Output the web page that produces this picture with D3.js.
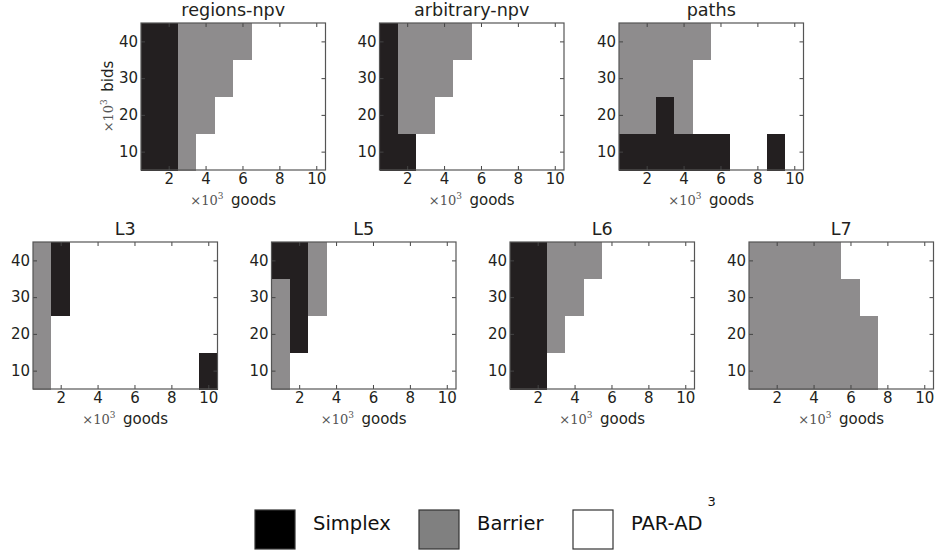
<!DOCTYPE html>
<html>
<head>
<meta charset="utf-8">
<script src="https://cdn.jsdelivr.net/npm/d3@7"></script>
<style>
  body { margin: 0; background: #fff; }
  svg { display: block; font-family: "DejaVu Sans", sans-serif; }
</style>
</head>
<body>
<svg width="935" height="550"></svg>
<script>
// goods (x10^3) on x, bids (x10^3) on y
const goods = [1, 2, 3, 4, 5, 6, 7, 8, 9, 10];
const bids = [10, 20, 30, 40];
const xTicks = [2, 4, 6, 8, 10];
const yTicks = [10, 20, 30, 40];

// winning solver per cell: 0 = Simplex, 1 = Barrier, 2 = PAR-AD^3
// one row per bids value (10, 20, 30, 40), one column per goods value
const regionsNpv = [
    [0, 0, 1, 2, 2, 2, 2, 2, 2, 2],
    [0, 0, 1, 1, 2, 2, 2, 2, 2, 2],
    [0, 0, 1, 1, 1, 2, 2, 2, 2, 2],
    [0, 0, 1, 1, 1, 1, 2, 2, 2, 2]
];
const arbitraryNpv = [
    [0, 0, 2, 2, 2, 2, 2, 2, 2, 2],
    [0, 1, 1, 2, 2, 2, 2, 2, 2, 2],
    [0, 1, 1, 1, 2, 2, 2, 2, 2, 2],
    [0, 1, 1, 1, 1, 2, 2, 2, 2, 2]
];
const paths = [
    [0, 0, 0, 0, 0, 0, 2, 2, 0, 2],
    [1, 1, 0, 1, 2, 2, 2, 2, 2, 2],
    [1, 1, 1, 1, 2, 2, 2, 2, 2, 2],
    [1, 1, 1, 1, 1, 2, 2, 2, 2, 2]
];
const l3 = [
    [1, 2, 2, 2, 2, 2, 2, 2, 2, 0],
    [1, 2, 2, 2, 2, 2, 2, 2, 2, 2],
    [1, 0, 2, 2, 2, 2, 2, 2, 2, 2],
    [1, 0, 2, 2, 2, 2, 2, 2, 2, 2]
];
const l5 = [
    [1, 2, 2, 2, 2, 2, 2, 2, 2, 2],
    [1, 0, 2, 2, 2, 2, 2, 2, 2, 2],
    [1, 0, 1, 2, 2, 2, 2, 2, 2, 2],
    [0, 0, 1, 2, 2, 2, 2, 2, 2, 2]
];
const l6 = [
    [0, 0, 2, 2, 2, 2, 2, 2, 2, 2],
    [0, 0, 1, 2, 2, 2, 2, 2, 2, 2],
    [0, 0, 1, 1, 2, 2, 2, 2, 2, 2],
    [0, 0, 1, 1, 1, 2, 2, 2, 2, 2]
];
const l7 = [
    [1, 1, 1, 1, 1, 1, 1, 2, 2, 2],
    [1, 1, 1, 1, 1, 1, 1, 2, 2, 2],
    [1, 1, 1, 1, 1, 1, 2, 2, 2, 2],
    [1, 1, 1, 1, 1, 2, 2, 2, 2, 2]
];

const solverNames = ["Simplex", "Barrier", "PAR-AD"];
const cellColors = ["#231f20", "#8e8c8d", "#ffffff"];
const legendColors = ["#000000", "#808080", "#ffffff"];

const panels = [
    { title: "regions-npv", grid: regionsNpv, left: 141, top: 23, ylabel: true },
    { title: "arbitrary-npv", grid: arbitraryNpv, left: 379.5, top: 23 },
    { title: "paths", grid: paths, left: 619, top: 23 },
    { title: "L3", grid: l3, left: 33, top: 242 },
    { title: "L5", grid: l5, left: 271.5, top: 242 },
    { title: "L6", grid: l6, left: 510, top: 242 },
    { title: "L7", grid: l7, left: 749, top: 242 }
];

const svg = d3.select("svg");
const pw = 184.5, ph = 147;
const ink = "#231f20";

const x = d3.scaleLinear().domain([0.5, 10.5]).range([0, pw]);
const y = d3.scaleLinear().domain([5, 45]).range([ph, 0]);

// x10^3 multiplier written as math text
function addMultiplier(t) {
    t.append("tspan").attr("font-family", "DejaVu Serif, serif").attr("font-size", "13px")
        .attr("fill", "#555").text("\u00d710");
    t.append("tspan").attr("font-family", "DejaVu Serif, serif").attr("font-size", "9px")
        .attr("fill", "#555").attr("dy", "-6").text("3");
}

panels.forEach(p => {
    const g = svg.append("g").attr("transform", `translate(${p.left},${p.top})`);

    const cells = [];
    p.grid.forEach((row, i) => row.forEach((v, j) => cells.push({ b: bids[i], gd: goods[j], v: v })));

    g.selectAll("rect.cell")
        .data(cells)
        .join("rect")
        .attr("class", "cell")
        .attr("shape-rendering", "crispEdges")
        .attr("x", d => x(d.gd - 0.5))
        .attr("y", d => y(d.b + 5))
        .attr("width", d => x(d.gd + 0.5) - x(d.gd - 0.5) + 0.5)
        .attr("height", d => y(d.b - 5) - y(d.b + 5) + 0.5)
        .attr("fill", d => cellColors[d.v]);

    // ticks point inward on every side, labels only bottom/left
    g.append("g").attr("transform", `translate(0,${ph})`)
        .call(d3.axisBottom(x).tickValues(xTicks).tickSize(-4).tickPadding(3));
    g.append("g")
        .call(d3.axisLeft(y).tickValues(yTicks).tickSize(-4).tickPadding(3));
    g.append("g").call(d3.axisTop(x).tickValues(xTicks).tickSize(-4).tickFormat(""));
    g.append("g").attr("transform", `translate(${pw},0)`)
        .call(d3.axisRight(y).tickValues(yTicks).tickSize(-4).tickFormat(""));

    g.selectAll(".domain").remove();
    g.selectAll(".tick line").attr("stroke", "#444");
    g.selectAll(".tick text").attr("fill", ink).attr("font-size", "15px")
        .attr("font-family", "DejaVu Sans, sans-serif");

    g.append("rect")
        .attr("width", pw).attr("height", ph)
        .attr("fill", "none").attr("stroke", "#555").attr("stroke-width", 1.2);

    g.append("text")
        .attr("x", pw / 2).attr("y", -7)
        .attr("text-anchor", "middle")
        .attr("font-size", "17.6px").attr("fill", ink)
        .text(p.title);

    const xl = g.append("text")
        .attr("x", pw / 2).attr("y", ph + 35)
        .attr("text-anchor", "middle").attr("fill", ink);
    addMultiplier(xl);
    xl.append("tspan").attr("dy", "6").attr("font-size", "15px").text("\u2002goods");

    if (p.ylabel) {
        const yl = g.append("text")
            .attr("transform", `translate(-28,${ph / 2}) rotate(-90)`)
            .attr("text-anchor", "middle").attr("fill", ink);
        addMultiplier(yl);
        yl.append("tspan").attr("dy", "6").attr("font-size", "15px").text("\u2002bids");
    }
});

// legend
const legendX = [255, 419, 573];
const legend = svg.append("g");
solverNames.forEach((name, i) => {
    legend.append("rect")
        .attr("x", legendX[i]).attr("y", 510)
        .attr("width", 40).attr("height", 39)
        .attr("fill", legendColors[i]).attr("stroke", "#333").attr("stroke-width", 1.2);
    const t = legend.append("text")
        .attr("x", legendX[i] + 58).attr("y", 530)
        .attr("font-size", "19.5px").attr("fill", "#111")
        .text(name);
    if (i === 2) {
        t.append("tspan").attr("dx", "5").attr("dy", "-24").attr("font-size", "13px").text("3");
    }
});
</script>
</body>
</html>
